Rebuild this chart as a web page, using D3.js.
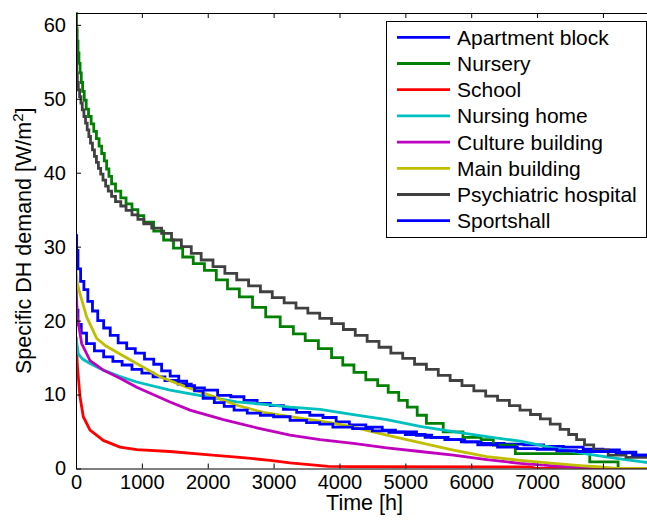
<!DOCTYPE html>
<html>
<head>
<meta charset="utf-8">
<script src="https://cdn.jsdelivr.net/npm/d3@7"></script>
<style>
	body { margin: 0; background: #fff; }
	svg { display: block; font-family: "Liberation Sans", Arial, sans-serif; }
</style>
</head>
<body>
<script>
// duration curves, [hour, W/m2]
var apartmentBlock = [[0,21.4],[30,19.5],[80,18.3],[160,16.9],[280,15.9],[420,15.1],[560,14.5],[700,14.0],[850,13.4],[1000,12.9],[1170,12.4],[1350,11.9],[1550,11.4],[1750,10.9],[1950,10.6],[2150,9.9],[2350,9.7],[2550,9.2],[2750,8.8],[2950,8.5],[3150,8.0],[3350,7.6],[3550,7.2],[3750,6.9],[3950,6.3],[4150,5.9],[4400,5.6],[4650,5.2],[4850,4.95],[5170,4.5],[5400,4.2],[5650,3.9],[5900,3.6],[6150,3.4],[6500,3.3],[6800,3.2],[7100,3.0],[7400,2.9],[7700,2.6],[8000,2.5],[8250,2.2],[8500,1.8],[8700,1.5],[8760,1.5]];
var nursery = [[0,61.5],[8,59.5],[18,57.8],[30,56.2],[45,54.8],[62,53.5],[80,52.2],[100,51],[125,49.8],[155,48.6],[190,47.6],[230,46.6],[270,45.6],[310,44.6],[350,43.6],[390,42.6],[430,41.6],[465,40.5],[500,39.5],[540,38.5],[600,37.5],[680,36.6],[760,35.8],[850,35.0],[940,34.2],[1030,33.3],[1180,32.1],[1330,30.9],[1480,29.8],[1620,28.6],[1780,27.7],[1950,26.8],[2130,25.5],[2300,24.3],[2480,23.2],[2680,21.8],[2880,20.5],[3100,19.2],[3300,18.2],[3480,17.3],[3680,16.2],[3880,15],[4050,14],[4220,13],[4400,12],[4580,11.2],[4740,10.3],[4900,9.2],[5030,8.3],[5180,7.2],[5320,6.1],[5575,4.95],[5875,4.2],[6150,3.9],[6336,3.15],[6670,2.0],[7800,0.9],[8230,0],[8760,0]];
var school = [[0,17.8],[20,14],[35,12.4],[61,9.7],[111,7.0],[213,5.2],[415,3.8],[668,2.9],[922,2.55],[1427,2.3],[1933,1.9],[2440,1.55],[2946,1.1],[3249,0.75],[3830,0.3],[4200,0.25],[6900,0.2],[7000,0],[8760,0]];
var nursingHome = [[0,17.8],[35,15.5],[100,14.8],[213,14.2],[415,13.3],[650,12.5],[922,11.7],[1427,10.6],[1933,9.8],[2440,9.0],[2946,8.6],[3249,8.3],[3705,8.0],[4210,7.3],[4718,6.6],[5223,5.7],[5729,5.0],[6236,4.3],[6742,3.7],[7248,2.8],[7650,2.1],[7950,1.7],[8260,1.3],[8600,0.9],[8760,0.7]];
var cultureBuilding = [[0,25],[20,20.5],[86,16.9],[213,14.6],[415,13.3],[668,12.2],[922,11.0],[1427,9.0],[1731,7.9],[2237,6.6],[2744,5.5],[3249,4.5],[3705,3.9],[4210,3.4],[4718,2.8],[5223,2.3],[5729,1.8],[6236,1.2],[6742,0.7],[7248,0.35],[7754,0.1],[8000,0],[8760,0]];
var mainBuilding = [[0,26.8],[20,25],[61,23.6],[162,20.5],[314,17.6],[450,16.6],[567,16.0],[922,14.2],[1275,12.4],[1681,11.0],[2035,9.9],[2440,8.55],[2845,7.6],[3249,7.0],[3857,6.2],[4210,5.6],[4718,4.5],[5223,3.5],[5729,2.5],[6236,1.6],[6742,1.1],[7248,0.7],[7653,0.4],[7957,0.2],[8200,0],[8760,0]];
var psychiatricHospital = [[0,59.2],[4,56],[10,53.5],[20,52.2],[35,51.2],[55,50.3],[75,49.4],[95,48.5],[120,47.6],[145,46.7],[170,45.8],[195,44.9],[220,44.0],[250,43.1],[280,42.2],[310,41.4],[340,40.6],[375,39.8],[410,39],[450,38.2],[490,37.5],[540,36.8],[600,36.1],[680,35.5],[760,34.9],[850,34.3],[940,33.7],[1030,33.1],[1150,32.5],[1300,31.8],[1450,30.9],[1600,30.0],[1750,29.1],[1900,28.2],[2080,27.3],[2260,26.4],[2440,25.5],[2620,24.7],[2800,23.9],[2980,23.1],[3160,22.4],[3340,21.7],[3520,21.0],[3700,20.3],[3880,19.6],[4060,18.8],[4240,18.0],[4420,17.2],[4600,16.4],[4780,15.6],[4960,14.9],[5140,14.1],[5320,13.4],[5500,12.6],[5680,11.9],[5860,11.2],[6040,10.5],[6220,9.8],[6400,9.2],[6580,8.5],[6740,7.9],[6900,7.3],[7050,6.7],[7200,6.0],[7350,5.3],[7480,4.6],[7600,3.9],[7720,3.2],[7860,2.5],[8080,1.8],[8350,1.5],[8760,1.2]];
var sportshall = [[0,31.5],[10,29.5],[30,27],[70,25.3],[120,24.2],[180,22.6],[250,21.3],[330,20],[420,19],[520,18],[640,17],[770,16.2],[900,15.6],[1040,14.8],[1180,14.1],[1300,13.2],[1430,12.5],[1560,11.8],[1680,11.2],[1800,10.5],[1930,9.5],[2100,8.9],[2250,8.4],[2400,7.9],[2600,7.5],[2800,7.2],[3000,7.0],[3250,6.5],[3500,6.2],[3700,6.0],[3900,5.6],[4200,5.4],[4500,5.1],[4750,4.9],[5000,4.6],[5300,4.2],[5600,3.9],[5850,3.6],[6100,3.2],[6400,2.9],[6700,2.7],[7000,2.6],[7300,2.4],[7600,2.3],[7900,2.3],[8200,2.1],[8450,1.8],[8700,1.4],[8760,1.4]];

var seriesNames = ['Apartment block', 'Nursery', 'School', 'Nursing home', 'Culture building', 'Main building', 'Psychiatric hospital', 'Sportshall'];
var seriesData = [apartmentBlock, nursery, school, nursingHome, cultureBuilding, mainBuilding, psychiatricHospital, sportshall];
var seriesColors = ['#0000ff', '#008000', '#ff0000', '#00bfbf', '#bf00bf', '#bfbf00', '#404040', '#0000ff'];
var seriesStepped = [true, true, false, false, false, false, true, true];

var xTicks = [0, 1000, 2000, 3000, 4000, 5000, 6000, 7000, 8000];
var yTicks = [0, 10, 20, 30, 40, 50, 60];

drawChart();

function drawChart(){
	var width = 647,
		height = 521;
	var mLeft = 76, mRight = 653, mTop = 13, mBottom = 468.5;

	var svg = d3.select('body').append('svg')
		.attr('width', width)
		.attr('height', height);

	var x = d3.scaleLinear().domain([0, 8760]).range([mLeft, mRight]);
	var y = d3.scaleLinear().domain([0, 61.6]).range([mBottom, mTop]);

	svg.append('clipPath').attr('id', 'plot')
		.append('rect')
		.attr('x', mLeft).attr('y', mTop - 2)
		.attr('width', mRight - mLeft).attr('height', mBottom - mTop + 2);

	var lines = svg.append('g').attr('clip-path', 'url(#plot)');
	seriesData.forEach(function(d, i){
		var line = d3.line()
			.x(function(p){ return x(p[0]); })
			.y(function(p){ return y(p[1]); })
			.curve(seriesStepped[i] ? d3.curveStepAfter : d3.curveLinear);
		lines.append('path')
			.attr('d', line(d))
			.attr('fill', 'none')
			.attr('stroke', seriesColors[i])
			.attr('stroke-width', 2.8);
	});

	// axes, matlab style (ticks inside)
	function styleAxis(g){
		g.selectAll('.domain').attr('stroke', '#000').attr('stroke-width', 1);
		g.selectAll('.tick line').attr('stroke', '#000');
		g.selectAll('.tick text').attr('fill', '#000').style('font-size', '20px').style('font-family', '"Liberation Sans", Arial, sans-serif');
	}

	svg.append('g')
		.attr('transform', 'translate(0,' + mBottom + ')')
		.call(d3.axisBottom(x).tickValues(xTicks).tickSizeInner(-5).tickSizeOuter(0).tickPadding(6).tickFormat(d3.format('d')))
		.call(styleAxis);
	svg.append('g')
		.attr('transform', 'translate(0,' + mTop + ')')
		.call(d3.axisTop(x).tickValues(xTicks).tickSizeInner(-5).tickSizeOuter(0).tickFormat(''))
		.call(styleAxis);
	svg.append('g')
		.attr('transform', 'translate(' + mLeft + ',0)')
		.call(d3.axisLeft(y).tickValues(yTicks).tickSizeInner(-5).tickSizeOuter(0).tickPadding(10).tickFormat(d3.format('d')))
		.call(styleAxis);
	svg.append('g')
		.attr('transform', 'translate(' + mRight + ',0)')
		.call(d3.axisRight(y).tickValues(yTicks).tickSizeInner(-5).tickSizeOuter(0).tickFormat(''))
		.call(styleAxis);

	// axis labels
	svg.append('text')
		.attr('x', (mLeft + mRight) / 2)
		.attr('y', 510)
		.attr('text-anchor', 'middle')
		.style('font-size', '21.5px')
		.text('Time [h]');

	var yLabel = svg.append('text')
		.attr('transform', 'translate(31,' + ((mTop + mBottom) / 2) + ') rotate(-90)')
		.attr('text-anchor', 'middle')
		.style('font-size', '21.5px');
	yLabel.append('tspan').text('Specific DH demand [W/m');
	yLabel.append('tspan').attr('dy', -8).style('font-size', '15px').text('2');
	yLabel.append('tspan').attr('dy', 8).text(']');

	// legend
	var legend = svg.append('g');
	legend.append('rect')
		.attr('x', 386.5).attr('y', 21.5)
		.attr('width', 260).attr('height', 216)
		.attr('fill', '#fff')
		.attr('stroke', '#000')
		.attr('stroke-width', 1);
	seriesNames.forEach(function(name, i){
		var ly = 37.3 + i * 26.2;
		legend.append('line')
			.attr('x1', 397).attr('x2', 450)
			.attr('y1', ly).attr('y2', ly)
			.attr('stroke', seriesColors[i])
			.attr('stroke-width', 2.8);
		legend.append('text')
			.attr('x', 457)
			.attr('y', ly + 7.5)
			.style('font-size', '21px')
			.text(name);
	});
}
</script>
</body>
</html>
